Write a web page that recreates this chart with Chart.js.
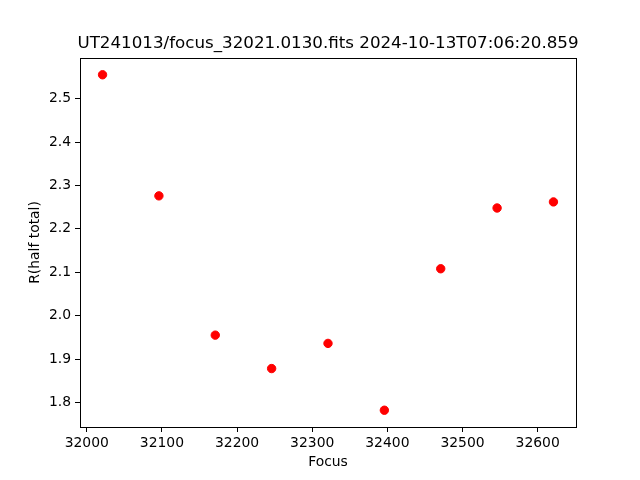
<!DOCTYPE html>
<html>
<head>
<meta charset="utf-8">
<script src="https://cdn.jsdelivr.net/npm/chart.js@4"></script>
<style>
  html, body { margin: 0; padding: 0; background: white; }
  #wrap { width: 640px; height: 480px; }
</style>
</head>
<body>
<div id="wrap"><canvas id="chart" width="640" height="480"></canvas></div>
<script>
// focus positions and measured radius
const focusValues = [32021, 32096, 32171, 32246, 32321, 32396, 32471, 32546, 32621];
const radiusValues = [2.555, 2.276, 1.955, 1.878, 1.936, 1.782, 2.108, 2.248, 2.262];
const xTicks = [32000, 32100, 32200, 32300, 32400, 32500, 32600];
const yTicks = [1.8, 1.9, 2.0, 2.1, 2.2, 2.3, 2.4, 2.5];

const titleText = 'UT241013/focus_32021.0130.fits 2024-10-13T07:06:20.859';
const font = '"DejaVu Sans", sans-serif';

// matplotlib style 5% margins
function withMargin(arr) {
    const lo = Math.min(...arr), hi = Math.max(...arr);
    const m = (hi - lo) * 0.05;
    return [lo - m, hi + m];
}
const [xMin, xMax] = withMargin(focusValues);
const [yMin, yMax] = withMargin(radiusValues);

const frame = {
    id: 'frame',
    afterDraw(chart) {
        const { ctx, chartArea: a } = chart;
        ctx.save();
        ctx.strokeStyle = '#000';
        ctx.lineWidth = 1;
        ctx.strokeRect(Math.round(a.left) + 0.5, Math.round(a.top) + 0.5,
            Math.round(a.right - a.left), Math.round(a.bottom - a.top));
        ctx.fillStyle = '#000';
        ctx.textAlign = 'center';
        ctx.textBaseline = 'middle';
        ctx.font = '16.7px ' + font;
        ctx.fillText(titleText, (a.left + a.right) / 2, 44);
        ctx.font = '13.9px ' + font;
        ctx.fillText('Focus', (a.left + a.right) / 2, 462);
        ctx.translate(35, (a.top + a.bottom) / 2);
        ctx.rotate(-Math.PI / 2);
        ctx.fillText('R(half total)', 0, 0);
        ctx.restore();
    }
};

new Chart(document.getElementById('chart'), {
    type: 'scatter',
    data: {
        datasets: [{
            data: focusValues.map((f, i) => ({ x: f, y: radiusValues[i] })),
            backgroundColor: '#ff0000',
            borderColor: '#ff0000',
            pointRadius: 4.2,
            pointHoverRadius: 4.2
        }]
    },
    options: {
        responsive: false,
        animation: false,
        events: [],
        layout: { padding: { top: 58, right: 64, left: 0, bottom: 0 } },
        plugins: { legend: { display: false }, tooltip: { enabled: false } },
        scales: {
            x: {
                type: 'linear',
                min: xMin,
                max: xMax,
                afterBuildTicks: s => { s.ticks = xTicks.map(v => ({ value: v })); },
                afterFit: s => { s.height = 53; },
                grid: { drawOnChartArea: false, drawTicks: true, tickLength: 5, tickColor: '#000' },
                border: { display: true, color: '#000' },
                ticks: { color: '#000', font: { family: font, size: 13.9 }, padding: 3, maxRotation: 0,
                    callback: v => String(v) }
            },
            y: {
                type: 'linear',
                min: yMin,
                max: yMax,
                afterBuildTicks: s => { s.ticks = yTicks.map(v => ({ value: v })); },
                afterFit: s => { s.width = 80; },
                grid: { drawOnChartArea: false, drawTicks: true, tickLength: 5, tickColor: '#000' },
                border: { display: true, color: '#000' },
                ticks: { color: '#000', font: { family: font, size: 13.9 }, padding: 4,
                    callback: v => v.toFixed(1) }
            }
        }
    },
    plugins: [frame]
});
</script>
</body>
</html>
